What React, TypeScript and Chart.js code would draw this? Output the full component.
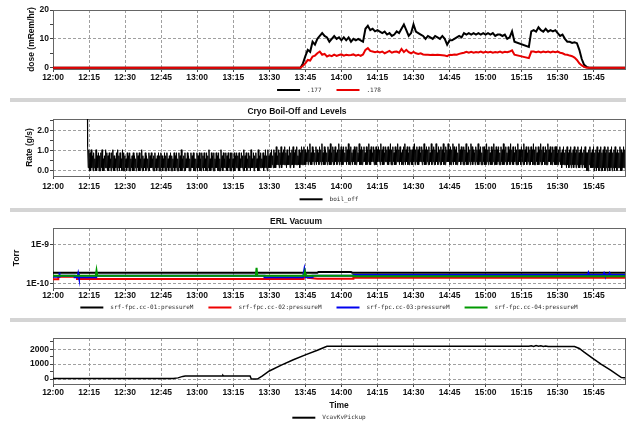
import React, { useEffect, useRef } from 'react';
import { Chart, registerables } from 'chart.js';

Chart.register(...registerables);

// ---------- shared time axis (minutes after 12:00) ----------
const timeTicks = [0, 15, 30, 45, 60, 75, 90, 105, 120, 135, 150, 165, 180, 195, 210, 225];
const timeLabels = ['12:00', '12:15', '12:30', '12:45', '13:00', '13:15', '13:30', '13:45', '14:00', '14:15', '14:30', '14:45', '15:00', '15:15', '15:30', '15:45'];
const timeMin = 0;
const timeMax = 238;

// ---------- panel 1: dose ----------
const doseTimes = [
  0, 20, 40, 60, 80, 100,
  103, 104, 105, 106, 107, 108, 109, 110, 111, 112,
  113, 114, 115, 116, 117, 118, 119, 120, 121, 122,
  123, 124, 125, 126, 127, 128, 129, 130, 131, 132,
  133, 134, 135, 136, 137, 138, 139, 140, 141, 142,
  143, 144, 145, 146, 147, 148, 149, 150, 151, 152,
  153, 154, 155, 156, 157, 158, 159, 160, 161, 162,
  163, 164, 165, 166, 167, 168, 169, 170, 171, 172,
  173, 174, 175, 176, 177, 178, 179, 180, 181, 182,
  183, 184, 185, 186, 187, 188, 189, 190, 191, 192,
  198, 199, 200, 201, 202, 203, 204, 205, 206, 207,
  208, 209, 210, 211, 212, 213, 214, 215, 216, 217,
  218, 219, 220, 221, 222, 223, 224, 225,
  232, 238,
];
const dose177 = [
  0, 0, 0, 0, 0, 0,
  0, 1.5, 4, 6.2, 5.5, 9, 8, 10, 11, 12,
  11, 10.5, 9, 10, 11, 10, 10.5, 9.5, 10.5, 9.5,
  10.5, 9, 10, 9.5, 10, 9.5, 9, 13.5, 14.5, 13,
  13.5, 12.6, 13, 12.5, 12, 12.5, 11.5, 12, 11, 11.5,
  12.6, 12, 13.5, 15, 13, 11, 12, 15, 12.5, 12,
  11.5, 11, 10, 11, 10.5, 10, 11, 10.5, 10, 11,
  10, 8, 9.5, 9.5, 10, 10.5, 11, 10.5, 12, 11.5,
  12, 11.5, 12, 11.5, 12, 11.5, 12, 11.5, 12, 11.5,
  12, 11, 11.5, 11.5, 11, 11.5, 10, 10.5, 12.6, 9,
  7.2, 12.6, 13, 12.5, 14, 13, 12.5, 13.5, 12.5, 13,
  12.6, 13, 12, 11, 11.5, 10, 9, 9, 8.6, 8.8,
  8.5, 6.2, 3, 1, 0.3, 0, 0, 0,
  0, 0,
];
const dose178 = [
  0, 0, 0, 0, 0, 0,
  0, 0.7, 1.5, 2.7, 2.5, 3.9, 4.2, 5, 5.6, 4.5,
  4.8, 3.9, 4.3, 4, 4.5, 4.1, 4.4, 4.6, 4.2, 4.5,
  4.3, 4.4, 4.6, 4.2, 4.5, 4.1, 4.6, 6.2, 6.8, 5.8,
  5.6, 5.4, 5.6, 5.3, 5.6, 5, 5.4, 5.8, 5.2, 5.5,
  5.6, 5.2, 6.5, 5.4, 6.2, 5.4, 5, 5.5, 5, 4.8,
  5, 4.6, 4.5, 4.5, 4.4, 4.5, 4.4, 4.5, 4.4, 4.3,
  4.2, 4, 4.5, 4.4, 4.6, 4.5, 4.8, 5, 5.2, 5.5,
  5.2, 5.5, 5.2, 5.4, 5.3, 5.6, 5.2, 5.5, 5.3, 5.5,
  5.2, 5.4, 5.3, 5.6, 5.2, 5.5, 5.4, 5.6, 6, 4.5,
  3.3, 5.6, 5.6, 5.4, 5.6, 5.3, 5.6, 5.4, 5.6, 5.3,
  5.6, 5.4, 5.6, 5.2, 5.0, 4.6, 4.5, 4.2, 4.0, 3.5,
  2.7, 1.5, 0.8, 0.3, 0, 0, 0, 0,
  0, 0,
];
const doseTicks = [0, 5, 10, 15, 20];
const doseTickLabels = ['0', '', '10', '', '20'];

// ---------- panel 2: cryo boil-off ----------
// first point: the off-scale spike; then one digit per quarter minute, value = digit * boilScale
const boilSpikeTime = 14.3;
const boilSpikeValue = 3.0;
const boilStart = 14.4;
const boilStep = 0.25;
const boilScale = 0.15;
const boilDigits = [
  '817060715061407051605061704051716050614061705041607150614070',
  '605140615060415060514061506041705041605140605161405061405160',
  '506150416050614051605041605160406150704150604161504061516040',
  '416051604061506140605170406150604161506040715061416050614060',
  '614060516150604161507051604161507141605161407051614160517150',
  '715161725171618252716281627282617252816272816272825271628272',
  '827263827392628372638273628372936282736283729263827283627392',
  '738272836382739272836273827283639272827383628273927283638272',
  '827383729372826383728273927283628273937283627283927382628372',
  '728392738272836382739272837282639273827293628372827392628373',
  '937282739283728263937283728273926283729382736283729273826283',
  '827293728362827392728273826283729273826283729372826382729273',
  '728372927382638272837292728362827392728362827293738262837282',
  '826273826172826271826172816271826172816172816271816060728161',
  '718061708160718060718061708160718061708160716180706181706071',
].join('');
const boilTicks = [0, 0.5, 1, 1.5, 2, 2.5];
const boilTickLabels = ['0.0', '', '1.0', '', '2.0', ''];

// ---------- panel 3: ERL vacuum (Torr) ----------
const vac01Times = [0, 110, 110.5, 124, 124.5, 238];
const vac01 = [1.87e-10, 1.87e-10, 1.95e-10, 1.95e-10, 1.87e-10, 1.87e-10];
const vac02Times = [0, 2.2, 2.2, 10, 10, 104.3, 104.8, 106, 110, 125, 125, 238];
const vac02 = [1.27e-10, 1.27e-10, 1.47e-10, 1.47e-10, 1.29e-10, 1.29e-10, 1.75e-10, 1.38e-10, 1.3e-10, 1.3e-10, 1.38e-10, 1.38e-10];
const vac03Times = [0, 2.5, 2.5, 2.8, 2.8, 9, 9, 10.2, 10.5, 10.8, 18, 18, 88, 88, 104, 104.6, 105.2, 108, 108, 125, 125, 222.5, 222.8, 223.1, 229, 229.3, 229.6, 231.3, 231.6, 231.9, 238];
const vac03 = [1.47e-10, 1.47e-10, 1.9e-10, 1.9e-10, 1.57e-10, 1.57e-10, 1.42e-10, 1.42e-10, 1.75e-10, 1.42e-10, 1.42e-10, 1.57e-10, 1.57e-10, 1.42e-10, 1.42e-10, 2.3e-10, 1.42e-10, 1.42e-10, 1.57e-10, 1.57e-10, 1.63e-10, 1.63e-10, 1.85e-10, 1.63e-10, 1.63e-10, 1.8e-10, 1.63e-10, 1.63e-10, 1.8e-10, 1.63e-10, 1.63e-10];
const vac04Times = [0, 17.8, 18.1, 18.4, 84.4, 84.7, 85, 104.4, 104.8, 105.2, 125, 125, 238];
const vac04 = [1.57e-10, 1.57e-10, 2.1e-10, 1.57e-10, 1.57e-10, 2.5e-10, 1.57e-10, 1.57e-10, 2.0e-10, 1.57e-10, 1.57e-10, 1.51e-10, 1.51e-10];
const vacTicks = [1e-10, 1e-9];
const vacTickLabels = ['1E-10', '1E-9'];

// ---------- panel 4: VcavKvPickup ----------
const vcavTimes = [0, 50, 52, 54, 55, 70.5, 70.7, 71, 82, 82.5, 85, 87, 90, 95, 100, 105, 110, 114, 198, 199, 200, 201, 202, 203, 204, 205, 206, 217, 219, 221, 224, 228, 232, 236.5, 238];
const vcav = [45, 45, 80, 180, 200, 200, 250, 200, 200, 0, 0, 200, 540, 930, 1290, 1620, 1930, 2200, 2200, 2230, 2190, 2240, 2200, 2230, 2190, 2220, 2180, 2180, 2050, 1800, 1450, 1000, 600, 100, 80];
const vcavTicks = [0, 500, 1000, 1500, 2000, 2500];
const vcavTickLabels = ['0', '', '1000', '', '2000', ''];

// ---------- styling ----------
const FAMILY = "'Liberation Sans', Arial, sans-serif";
const tickFont = { family: FAMILY, size: 8.5, weight: 'bold' as const };
const titleFont = { family: FAMILY, size: 8.5, weight: 'bold' as const };
const LEGEND_FONT = "6px 'DejaVu Sans Mono', monospace";
const GRID = '#a0a0a0';

const pts = (xs: number[], ys: number[]) => xs.map((x, i) => ({ x, y: ys[i] }));

const framePlugin = {
  id: 'frame',
  beforeDatasetsDraw(chart: any) {
    const { ctx, chartArea: a } = chart;
    ctx.save();
    ctx.strokeStyle = '#666';
    ctx.lineWidth = 1;
    ctx.strokeRect(Math.round(a.left) + 0.5, Math.round(a.top) + 0.5, Math.round(a.right - a.left), Math.round(a.bottom - a.top));
    ctx.restore();
  },
};

const legendPlugin = {
  id: 'stripLegend',
  afterDraw(chart: any, _args: any, opts: any) {
    if (!opts || opts.y === undefined) return;
    const ctx = chart.ctx;
    const items = chart.data.datasets.map((d: any) => ({ label: d.label, color: d.borderColor }));
    ctx.save();
    ctx.font = LEGEND_FONT;
    const lineW = 23, gapT = 7, gapI = 15;
    const widths = items.map((it: any) => lineW + gapT + ctx.measureText(it.label).width);
    const total = widths.reduce((a: number, b: number) => a + b, 0) + gapI * (items.length - 1);
    let x = opts.centerX - total / 2;
    items.forEach((it: any, i: number) => {
      ctx.strokeStyle = it.color;
      ctx.lineWidth = 2;
      ctx.beginPath();
      ctx.moveTo(x, opts.y);
      ctx.lineTo(x + lineW, opts.y);
      ctx.stroke();
      ctx.fillStyle = '#333';
      ctx.textBaseline = 'middle';
      ctx.textAlign = 'left';
      ctx.fillText(it.label, x + lineW + gapT, opts.y);
      x += widths[i] + gapI;
    });
    ctx.restore();
  },
};

const titlePlugin = {
  id: 'stripTitle',
  afterDraw(chart: any, _args: any, opts: any) {
    if (!opts || !opts.text) return;
    const ctx = chart.ctx;
    ctx.save();
    ctx.font = `bold 8.5px ${FAMILY}`;
    ctx.fillStyle = '#111';
    ctx.textAlign = 'center';
    ctx.textBaseline = 'middle';
    ctx.fillText(opts.text, opts.x, opts.y);
    ctx.restore();
  },
};

function makeX(height: number, labelPad: number, title?: { text: string; pad: number }) {
  return {
    type: 'linear',
    position: 'bottom',
    min: timeMin,
    max: timeMax,
    afterBuildTicks: (s: any) => {
      s.ticks = timeTicks.map((v) => ({ value: v }));
    },
    afterFit: (s: any) => {
      s.height = height;
    },
    ticks: {
      autoSkip: false,
      maxRotation: 0,
      minRotation: 0,
      padding: labelPad,
      color: '#111',
      font: tickFont,
      callback: (_v: any, i: number) => timeLabels[i],
    },
    grid: { color: GRID, lineWidth: 1, tickColor: '#444', tickLength: 3, tickWidth: 1 },
    border: { display: false, dash: [3, 2] },
    title: title
      ? { display: true, text: title.text, color: '#111', font: titleFont, padding: { top: 0, bottom: title.pad } }
      : { display: false },
  };
}

function makeY(o: { type?: string; min: number; max: number; ticks: number[]; labels: string[]; title?: string; titlePad?: number }) {
  return {
    type: o.type || 'linear',
    position: 'left',
    min: o.min,
    max: o.max,
    afterBuildTicks: (s: any) => {
      s.ticks = o.ticks.map((v) => ({ value: v }));
    },
    afterFit: (s: any) => {
      s.width = 53;
    },
    ticks: {
      autoSkip: false,
      padding: 1,
      color: '#111',
      font: tickFont,
      callback: (_v: any, i: number) => o.labels[i],
    },
    grid: {
      color: (c: any) => (o.labels[c.index] ? GRID : 'rgba(0,0,0,0)'),
      tickColor: '#444',
      tickLength: 3,
    },
    border: { display: false, dash: [3, 2] },
    title: o.title
      ? { display: true, text: o.title, color: '#111', font: titleFont, padding: { top: o.titlePad || 0, bottom: 0 } }
      : { display: false },
  };
}

function baseOptions(padTop: number, scales: any, legendY: number, title?: { text: string; x: number; y: number }) {
  return {
    responsive: false,
    maintainAspectRatio: false,
    animation: false,
    devicePixelRatio: 1,
    layout: { padding: { left: 0, right: 3, top: padTop, bottom: 0 } },
    elements: { point: { radius: 0 }, line: { tension: 0 } },
    plugins: {
      legend: { display: false },
      tooltip: { enabled: false },
      stripLegend: { y: legendY, centerX: 329 },
      stripTitle: title || {},
    },
    scales,
  };
}

const chartPlugins = [framePlugin, legendPlugin, titlePlugin];

function doseConfig(): any {
  return {
    type: 'line',
    data: {
      datasets: [
        { label: '.177', data: pts(doseTimes, dose177), borderColor: '#000000', borderWidth: 2, order: 2 },
        { label: '.178', data: pts(doseTimes, dose178), borderColor: '#e80000', borderWidth: 2, order: 1 },
      ],
    },
    options: baseOptions(
      10,
      {
        x: makeX(29, 1),
        y: makeY({ min: -0.45, max: 20, ticks: doseTicks, labels: doseTickLabels, title: 'dose (mRem/hr)', titlePad: 27 }),
      },
      90
    ),
    plugins: chartPlugins,
  };
}

function boilConfig(): any {
  const data = [{ x: boilSpikeTime, y: boilSpikeValue }].concat(
    boilDigits.split('').map((c, i) => ({ x: boilStart + i * boilStep, y: Number(c) * boilScale }))
  );
  return {
    type: 'line',
    data: {
      datasets: [{ label: 'boil_off', data, borderColor: '#000000', borderWidth: 1 }],
    },
    options: baseOptions(
      17,
      {
        x: makeX(32, 3),
        y: makeY({ min: -0.26, max: 2.58, ticks: boilTicks, labels: boilTickLabels, title: 'Rate (g/s)', titlePad: 25 }),
      },
      97.3,
      { text: 'Cryo Boil-Off and Levels', x: 297, y: 10 }
    ),
    plugins: chartPlugins,
  };
}

function vacConfig(): any {
  return {
    type: 'line',
    data: {
      datasets: [
        { label: 'srf-fpc.cc-01:pressureM', data: pts(vac01Times, vac01), borderColor: '#000000', borderWidth: 2, order: 4 },
        { label: 'srf-fpc.cc-02:pressureM', data: pts(vac02Times, vac02), borderColor: '#ee0000', borderWidth: 2, order: 3 },
        { label: 'srf-fpc.cc-03:pressureM', data: pts(vac03Times, vac03), borderColor: '#0000ee', borderWidth: 2, order: 2 },
        { label: 'srf-fpc.cc-04:pressureM', data: pts(vac04Times, vac04), borderColor: '#009900', borderWidth: 2, order: 1 },
      ],
    },
    options: baseOptions(
      16,
      {
        x: makeX(30, 0),
        y: makeY({ type: 'logarithmic', min: 7.58e-11, max: 2.62e-9, ticks: vacTicks, labels: vacTickLabels, title: 'Torr', titlePad: 12 }),
      },
      95.5,
      { text: 'ERL Vacuum', x: 296, y: 10 }
    ),
    plugins: chartPlugins,
  };
}

function vcavConfig(): any {
  return {
    type: 'line',
    data: {
      datasets: [{ label: 'VcavKvPickup', data: pts(vcavTimes, vcav), borderColor: '#000000', borderWidth: 1.5 }],
    },
    options: baseOptions(
      16,
      {
        x: makeX(42, 1, { text: 'Time', pad: 15 }),
        y: makeY({ min: -330, max: 2750, ticks: vcavTicks, labels: vcavTickLabels }),
      },
      95.7
    ),
    plugins: chartPlugins,
  };
}

function Panel({ top, height, config }: { top: number; height: number; config: () => any }) {
  const ref = useRef<HTMLCanvasElement | null>(null);
  useEffect(() => {
    if (!ref.current) return;
    const chart = new Chart(ref.current, config());
    return () => chart.destroy();
  }, [config]);
  return (
    <canvas
      ref={ref}
      width={628}
      height={height}
      style={{ position: 'absolute', left: 0, top, width: 628, height, display: 'block' }}
    />
  );
}

const bandTops = [98, 208, 318];

export default function App() {
  return (
    <div style={{ position: 'fixed', left: 0, top: 0, width: 628, height: 426, background: '#ffffff', overflow: 'hidden' }}>
      {bandTops.map((t) => (
        <div key={t} style={{ position: 'absolute', left: 10, top: t, width: 616, height: 4, background: '#d4d4d4' }} />
      ))}
      <Panel top={0} height={98} config={doseConfig} />
      <Panel top={102} height={106} config={boilConfig} />
      <Panel top={212} height={106} config={vacConfig} />
      <Panel top={322} height={104} config={vcavConfig} />
    </div>
  );
}
